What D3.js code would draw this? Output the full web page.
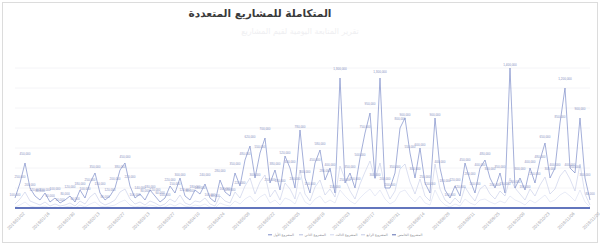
<!DOCTYPE html>
<html>
<head>
<meta charset="utf-8">
<script src="https://cdn.jsdelivr.net/npm/d3@7"></script>
<style>
  body { margin: 0; background: #fff; }
  svg { display: block; }
</style>
</head>
<body>
<div id="chart-area"></div>
<script>
// chart data (in thousands)
var titleText = "المتكاملة للمشاريع المتعددة"
var subtitleText = "تقرير المتابعة اليومية لقيم المشاريع"

var mainValues = [100, 250, 450, 200, 120, 80, 150, 60, 100, 50, 80, 120, 60, 180, 100, 250, 350, 150, 80, 120,
    200, 380, 450, 220, 100, 140, 80, 180, 120, 60, 100, 220, 150, 300, 120, 80, 180, 140, 240, 100,
    60, 280, 160, 120, 350, 220, 480, 620, 300, 550, 700, 250, 380, 180, 520, 400, 200, 780, 300, 150,
    450, 580, 280, 400, 150, 1300, 250, 350, 200, 500, 750, 950, 300, 1300, 200, 200, 350, 800, 900, 550,
    300, 600, 250, 150, 900, 400, 180, 100, 220, 120, 450, 280, 150, 400, 480, 300, 200, 350, 150, 1400,
    200, 300, 180, 400, 250, 480, 650, 300, 400, 850, 1200, 400, 350, 900, 300, 80]
var secondValues = [40, 90, 160, 70, 50, 30, 60, 20, 40, 20, 30, 50, 20, 70, 40, 110, 150, 60, 30, 50,
    80, 160, 190, 90, 40, 60, 30, 70, 50, 20, 40, 90, 60, 130, 50, 30, 70, 60, 100, 40,
    20, 120, 70, 50, 160, 100, 220, 300, 140, 260, 330, 110, 180, 80, 250, 190, 90, 380, 140, 70,
    210, 280, 130, 190, 110, 420, 290, 170, 90, 240, 360, 470, 290, 450, 210, 90, 170, 390, 440, 260,
    140, 290, 120, 70, 440, 190, 80, 40, 100, 50, 210, 130, 70, 190, 230, 140, 90, 170, 120, 300,
    200, 140, 80, 190, 120, 230, 310, 140, 190, 320, 380, 290, 170, 440, 140, 30]
var thirdValues = [10, 30, 60, 20, 10, 10, 20, 0, 10, 0, 10, 20, 0, 30, 10, 40, 60, 20, 10, 20,
    30, 60, 80, 30, 10, 20, 10, 30, 20, 0, 10, 40, 20, 50, 20, 10, 30, 20, 40, 10,
    0, 50, 30, 20, 70, 40, 90, 120, 60, 110, 140, 50, 80, 30, 100, 80, 40, 160, 60, 30,
    90, 120, 50, 80, 50, 180, 120, 70, 40, 100, 150, 190, 120, 180, 90, 40, 70, 160, 180, 110,
    60, 120, 50, 30, 180, 80, 30, 10, 40, 20, 90, 50, 30, 80, 90, 60, 40, 70, 50, 120,
    80, 60, 30, 80, 50, 90, 130, 60, 80, 130, 160, 120, 70, 180, 60, 10]

var tickLabels = ["2019/01/02", "2019/01/16", "2019/01/30", "2019/02/13", "2019/02/27", "2019/03/13",
    "2019/03/27", "2019/04/10", "2019/04/24", "2019/05/08", "2019/05/22", "2019/06/05",
    "2019/06/19", "2019/07/03", "2019/07/17", "2019/07/31", "2019/08/14", "2019/08/28",
    "2019/09/11", "2019/09/25", "2019/10/09", "2019/10/23", "2019/11/06", "2019/11/20"]

var seriesNames = ["المشروع الأول", "المشروع الثاني", "المشروع الثالث", "المشروع الرابع", "المشروع الخامس"]
var seriesColors = ["#7d8cc8", "#b8c0e2", "#d0d6ee", "#c4cbe6", "#5a6cb0"]

var width = 600, height = 245
var margin = { left: 15, right: 10, top: 58, bottom: 37 }

var svg = d3.select("#chart-area")
    .append("svg")
    .attr("width", width)
    .attr("height", height)

// outer frame
svg.append("rect")
    .attr("x", 2.5).attr("y", 2.5)
    .attr("width", 595).attr("height", 240)
    .attr("fill", "#fff")
    .attr("stroke", "#dcdcdc")

svg.append("text")
    .attr("x", 260).attr("y", 17)
    .attr("text-anchor", "middle")
    .attr("font-family", "DejaVu Sans")
    .attr("font-weight", "bold")
    .attr("font-size", "10.5px")
    .attr("fill", "#3a3a3a")
    .attr("direction", "rtl")
    .text(titleText)

svg.append("text")
    .attr("x", 300).attr("y", 34)
    .attr("text-anchor", "middle")
    .attr("font-family", "DejaVu Sans")
    .attr("font-size", "8px")
    .attr("fill", "#efeff2")
    .text(subtitleText)

var n = mainValues.length
var x = d3.scalePoint()
    .domain(d3.range(n))
    .range([margin.left, width - margin.right])
var y = d3.scaleLinear()
    .domain([0, 1500])
    .range([height - margin.bottom, height - margin.bottom - 150])

// faint gridlines
svg.append("g")
    .selectAll("line")
    .data(y.ticks(8))
    .enter().append("line")
    .attr("x1", margin.left).attr("x2", width - margin.right)
    .attr("y1", d => y(d)).attr("y2", d => y(d))
    .attr("stroke", "#f4f4f7")

var line = d3.line()
    .x((d, i) => x(i))
    .y(d => y(d))

var series = [
    { values: thirdValues, color: seriesColors[2], w: 0.5 },
    { values: secondValues, color: seriesColors[1], w: 0.5 },
    { values: mainValues, color: seriesColors[0], w: 0.7 }
]

series.forEach(s => {
    svg.append("path")
        .datum(s.values)
        .attr("fill", "none")
        .attr("stroke", s.color)
        .attr("stroke-width", s.w)
        .attr("d", line)
})

// data labels on the main series
var fmt = d3.format(",")
svg.append("g")
    .selectAll("text")
    .data(mainValues)
    .enter().append("text")
    .attr("x", (d, i) => x(i))
    .attr("y", (d, i) => y(d) - 2 - (i % 3) * 3)
    .attr("text-anchor", "middle")
    .attr("font-family", "Liberation Sans")
    .attr("font-size", "3px")
    .attr("fill", "#8590c0")
    .text(d => fmt(d * 1000))

// x axis
var xAxis = svg.append("g")
    .attr("transform", "translate(0," + (height - margin.bottom) + ")")
xAxis.append("line")
    .attr("x1", margin.left).attr("x2", width - margin.right)
    .attr("stroke", "#6376bd")
    .attr("stroke-width", 2)
xAxis.selectAll("text")
    .data(tickLabels)
    .enter().append("text")
    .attr("transform", (d, i) => "translate(" + (x(i * 5) + 10) + ",6) rotate(-45)")
    .attr("text-anchor", "end")
    .attr("font-family", "Liberation Sans")
    .attr("font-size", "4.5px")
    .attr("fill", "#a8a8b0")
    .text(d => d)

// legend
var legend = svg.append("g")
    .attr("transform", "translate(268,236)")
var item = legend.selectAll("g")
    .data(seriesNames)
    .enter().append("g")
    .attr("transform", (d, i) => "translate(" + (i * 31) + ",0)")
item.append("line")
    .attr("x1", 0).attr("x2", 4)
    .attr("y1", -1.2).attr("y2", -1.2)
    .attr("stroke", (d, i) => seriesColors[i])
item.append("text")
    .attr("x", 5.5)
    .attr("font-family", "DejaVu Sans")
    .attr("font-size", "3.4px")
    .attr("fill", "#8a8a90")
    .text(d => d)
</script>
</body>
</html>
